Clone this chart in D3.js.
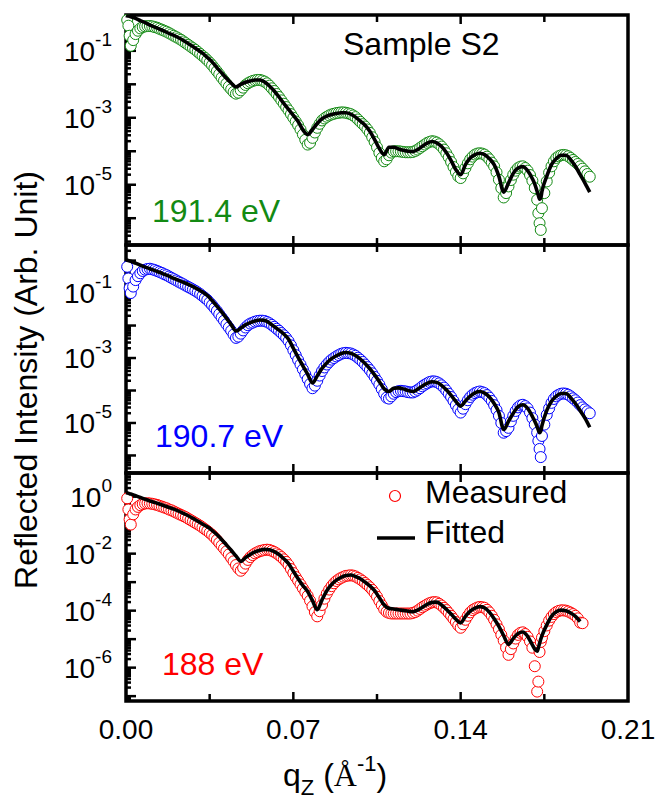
<!DOCTYPE html>
<html>
<head>
<meta charset="utf-8">
<script src="https://cdn.jsdelivr.net/npm/d3@7/dist/d3.min.js"></script>
<style>
  body{margin:0;background:#fff}
  svg{display:block}
</style>
</head>
<body>
<div id="chart"></div>
<script>
// q (A^-1) of the measured points
const qMeas = [0.0005, 0.001, 0.0015,
  0.002, 0.003, 0.004, 0.005, 0.006, 0.007, 0.008, 0.009,
  0.010, 0.011, 0.012, 0.013, 0.014, 0.015, 0.016, 0.017, 0.018, 0.019,
  0.020, 0.021, 0.022, 0.023, 0.024, 0.025, 0.026, 0.027, 0.028, 0.029,
  0.030, 0.031, 0.032, 0.033, 0.034, 0.035, 0.036, 0.037, 0.038, 0.039,
  0.040, 0.041, 0.042, 0.043, 0.044, 0.045, 0.046, 0.047, 0.048, 0.049,
  0.050, 0.051, 0.052, 0.053, 0.054, 0.055, 0.056, 0.057, 0.058, 0.059,
  0.060, 0.061, 0.062, 0.063, 0.064, 0.065, 0.066, 0.067, 0.068, 0.069,
  0.070, 0.071, 0.072, 0.073, 0.074, 0.075, 0.076, 0.077, 0.078, 0.079,
  0.080, 0.081, 0.082, 0.083, 0.084, 0.085, 0.086, 0.087, 0.088, 0.089,
  0.090, 0.091, 0.092, 0.093, 0.094, 0.095, 0.096, 0.097, 0.098, 0.099,
  0.100, 0.101, 0.102, 0.103, 0.104, 0.105, 0.106, 0.107, 0.108, 0.109,
  0.110, 0.111, 0.112, 0.113, 0.114, 0.115, 0.116, 0.117, 0.118, 0.119,
  0.120, 0.121, 0.122, 0.123, 0.124, 0.125, 0.126, 0.127, 0.128, 0.129,
  0.130, 0.131, 0.132, 0.133, 0.134, 0.135, 0.136, 0.137, 0.138, 0.139,
  0.140, 0.141, 0.142, 0.143, 0.144, 0.145, 0.146, 0.147, 0.148, 0.149,
  0.150, 0.151, 0.152, 0.153, 0.154, 0.155, 0.156, 0.157, 0.158, 0.159,
  0.160, 0.161, 0.162, 0.163, 0.164, 0.165, 0.166, 0.167, 0.168, 0.169,
  0.170, 0.171, 0.172, 0.1725, 0.173, 0.1735, 0.174, 0.175, 0.176, 0.177, 0.178, 0.179,
  0.180, 0.181, 0.182, 0.183, 0.184, 0.185, 0.186, 0.187, 0.188, 0.189,
  0.190, 0.191, 0.192, 0.193, 0.194]

// q grid of the fitted curves
const qFit = [0, 0.0005, 0.001, 0.0015,
  0.002, 0.004, 0.006, 0.008, 0.010, 0.012, 0.014, 0.016, 0.018, 0.020,
  0.022, 0.024, 0.026, 0.028, 0.030, 0.032, 0.034, 0.036, 0.038, 0.040,
  0.042, 0.044, 0.046, 0.048, 0.050, 0.052, 0.054, 0.056, 0.058, 0.060,
  0.062, 0.064, 0.066, 0.068, 0.070, 0.072, 0.074, 0.076, 0.078, 0.080,
  0.082, 0.084, 0.086, 0.088, 0.090, 0.092, 0.094, 0.096, 0.098, 0.100,
  0.102, 0.104, 0.106, 0.108, 0.110, 0.112, 0.114, 0.116, 0.118, 0.120,
  0.122, 0.124, 0.126, 0.128, 0.130, 0.132, 0.134, 0.136, 0.138, 0.140,
  0.142, 0.144, 0.146, 0.148, 0.150, 0.152, 0.154, 0.156, 0.158, 0.160,
  0.162, 0.164, 0.166, 0.168, 0.170,
  0.171, 0.172, 0.1725, 0.173, 0.1735, 0.174,
  0.176, 0.178, 0.180, 0.182, 0.184, 0.186, 0.188, 0.190, 0.192, 0.194]

// log10 of reflected intensity, 191.4 eV
const meas1914 = [-0.08, -0.25, -0.55,
  -0.85, -0.68, -0.50, -0.40, -0.33, -0.29, -0.27, -0.26,
  -0.26, -0.27, -0.29, -0.31, -0.34, -0.37, -0.40, -0.43, -0.47, -0.51,
  -0.55, -0.59, -0.63, -0.67, -0.72, -0.77, -0.82, -0.87, -0.92, -0.97,
  -1.03, -1.09, -1.15, -1.21, -1.28, -1.35, -1.43, -1.52, -1.61, -1.70,
  -1.80, -1.89, -1.98, -2.07, -2.15, -2.23, -2.28, -2.25, -2.18, -2.10,
  -2.02, -1.97, -1.93, -1.90, -1.88, -1.87, -1.87, -1.89, -1.92, -1.97,
  -2.04, -2.12, -2.20, -2.29, -2.38, -2.48, -2.58, -2.68, -2.78, -2.89,
  -3.00, -3.11, -3.22, -3.35, -3.50, -3.66, -3.80, -3.75, -3.60, -3.44,
  -3.30, -3.18, -3.08, -3.02, -2.97, -2.93, -2.90, -2.88, -2.86, -2.85,
  -2.84, -2.84, -2.85, -2.87, -2.89, -2.93, -2.98, -3.05, -3.12, -3.19,
  -3.26, -3.35, -3.45, -3.58, -3.72, -3.88, -4.05, -4.20, -4.30, -4.24,
  -4.12, -4.04, -4.00, -4.00, -4.00, -4.01, -4.02, -4.03, -4.03, -4.03,
  -4.02, -3.99, -3.95, -3.90, -3.85, -3.80, -3.75, -3.72, -3.70, -3.71,
  -3.74, -3.79, -3.86, -3.95, -4.06, -4.18, -4.32, -4.47, -4.62, -4.75,
  -4.80, -4.66, -4.50, -4.36, -4.24, -4.16, -4.10, -4.07, -4.06, -4.07,
  -4.10, -4.16, -4.24, -4.34, -4.45, -4.63, -4.85, -5.10, -5.38, -5.25,
  -5.05, -4.86, -4.70, -4.58, -4.50, -4.46, -4.45, -4.50, -4.58, -4.71,
  -4.88, -5.10, -5.45, -5.85, -6.15, -6.35, -5.70, -5.25, -4.90, -4.64, -4.45, -4.30,
  -4.20, -4.15, -4.12, -4.11, -4.12, -4.15, -4.20, -4.26, -4.32, -4.38,
  -4.45, -4.52, -4.60, -4.68, -4.76]
const fit1914 = [0.05, 0.04, 0.04, 0.03,
  0.02, -0.03, -0.10, -0.16, -0.23, -0.29, -0.35, -0.41, -0.48, -0.54,
  -0.61, -0.69, -0.78, -0.87, -0.97, -1.07, -1.20, -1.33, -1.50, -1.66,
  -1.82, -1.96, -2.08, -2.00, -1.94, -1.90, -1.87, -1.87, -1.93, -2.05,
  -2.20, -2.38, -2.57, -2.75, -2.93, -3.11, -3.36, -3.50, -3.35, -3.17,
  -3.03, -2.95, -2.90, -2.87, -2.85, -2.85, -2.89, -2.98, -3.10, -3.22,
  -3.40, -3.65, -3.92, -4.10, -3.88, -3.88, -3.93, -3.97, -4.00, -4.01,
  -3.95, -3.85, -3.76, -3.71, -3.75, -3.86, -4.04, -4.28, -4.55, -4.70,
  -4.40, -4.20, -4.10, -4.06, -4.10, -4.22, -4.40, -4.75, -5.22, -4.95,
  -4.66, -4.50, -4.46, -4.58, -4.82,
  -4.98, -5.20, -5.32, -5.43, -5.40, -5.20,
  -4.75, -4.40, -4.22, -4.12, -4.12, -4.25, -4.45, -4.70, -4.95, -5.22]

// 190.7 eV
const meas1907 = [-0.19, -0.55, -0.85,
  -1.00, -0.80, -0.60, -0.48, -0.39, -0.32, -0.28, -0.26,
  -0.25, -0.27, -0.29, -0.32, -0.35, -0.38, -0.42, -0.45, -0.49, -0.53,
  -0.57, -0.61, -0.65, -0.69, -0.73, -0.77, -0.81, -0.85, -0.89, -0.93,
  -0.98, -1.03, -1.09, -1.15, -1.21, -1.29, -1.37, -1.46, -1.55, -1.65,
  -1.75, -1.85, -1.96, -2.06, -2.16, -2.28, -2.38, -2.34, -2.25, -2.15,
  -2.06, -1.99, -1.94, -1.91, -1.88, -1.86, -1.85, -1.85, -1.86, -1.89,
  -1.93, -1.98, -2.04, -2.10, -2.16, -2.23, -2.30, -2.38, -2.48, -2.61,
  -2.76, -2.91, -3.06, -3.20, -3.35, -3.50, -3.65, -3.80, -3.93, -3.85,
  -3.70, -3.54, -3.40, -3.29, -3.20, -3.12, -3.05, -3.00, -2.95, -2.91,
  -2.87, -2.85, -2.84, -2.85, -2.86, -2.89, -2.93, -2.99, -3.05, -3.12,
  -3.20, -3.28, -3.37, -3.47, -3.58, -3.70, -3.82, -3.96, -4.10, -4.22,
  -4.25, -4.18, -4.10, -4.05, -4.02, -4.01, -4.02, -4.03, -4.05, -4.06,
  -4.06, -4.03, -3.98, -3.93, -3.87, -3.82, -3.78, -3.74, -3.72, -3.72,
  -3.74, -3.78, -3.84, -3.91, -4.00, -4.10, -4.20, -4.32, -4.45, -4.58,
  -4.68, -4.56, -4.42, -4.30, -4.20, -4.13, -4.08, -4.05, -4.03, -4.05,
  -4.08, -4.14, -4.22, -4.32, -4.45, -4.60, -4.78, -5.00, -5.30, -5.25,
  -5.15, -4.95, -4.78, -4.63, -4.52, -4.46, -4.44, -4.48, -4.55, -4.68,
  -4.85, -5.05, -5.30, -5.55, -5.80, -6.05, -5.40, -5.05, -4.75, -4.55, -4.38, -4.26,
  -4.18, -4.13, -4.10, -4.09, -4.10, -4.13, -4.18, -4.24, -4.30, -4.37,
  -4.45, -4.52, -4.58, -4.64, -4.70]
const fit1907 = [0.02, 0.01, 0.00, -0.01,
  -0.02, -0.08, -0.14, -0.20, -0.25, -0.31, -0.36, -0.42, -0.48, -0.55,
  -0.61, -0.67, -0.73, -0.80, -0.88, -0.97, -1.07, -1.23, -1.40, -1.58,
  -1.77, -1.97, -2.17, -2.08, -1.98, -1.91, -1.86, -1.83, -1.84, -1.92,
  -2.03, -2.14, -2.26, -2.42, -2.70, -2.98, -3.24, -3.50, -3.77, -3.55,
  -3.32, -3.15, -3.02, -2.93, -2.86, -2.83, -2.85, -2.92, -3.03, -3.17,
  -3.33, -3.52, -3.73, -3.95, -4.03, -3.93, -3.92, -3.95, -4.00, -4.03,
  -3.96, -3.86, -3.78, -3.73, -3.75, -3.84, -3.98, -4.15, -4.34, -4.48,
  -4.32, -4.17, -4.07, -4.03, -4.08, -4.20, -4.40, -4.68, -5.20, -4.95,
  -4.70, -4.50, -4.44, -4.55, -4.80,
  -4.95, -5.12, -5.22, -5.30, -5.25, -5.08,
  -4.62, -4.33, -4.17, -4.09, -4.09, -4.22, -4.40, -4.62, -4.85, -5.13]

// 188 eV
const meas188 = [-0.06, -0.45, -0.80,
  -0.98, -0.62, -0.45, -0.36, -0.30, -0.26, -0.24, -0.23,
  -0.24, -0.25, -0.27, -0.29, -0.32, -0.35, -0.38, -0.41, -0.45, -0.48,
  -0.52, -0.56, -0.60, -0.64, -0.68, -0.72, -0.77, -0.82, -0.87, -0.92,
  -0.97, -1.02, -1.08, -1.14, -1.20, -1.27, -1.34, -1.43, -1.52, -1.62,
  -1.72, -1.82, -1.92, -2.03, -2.15, -2.27, -2.40, -2.52, -2.60, -2.50,
  -2.35, -2.22, -2.12, -2.05, -1.99, -1.95, -1.91, -1.89, -1.87, -1.86,
  -1.87, -1.90, -1.94, -1.99, -2.05, -2.12, -2.20, -2.29, -2.40, -2.54,
  -2.68, -2.82, -2.95, -3.08, -3.22, -3.35, -3.48, -3.65, -3.85, -4.05,
  -4.20, -4.02, -3.80, -3.58, -3.40, -3.26, -3.14, -3.04, -2.96, -2.90,
  -2.85, -2.81, -2.78, -2.77, -2.76, -2.77, -2.80, -2.85, -2.90, -2.96,
  -3.03, -3.10, -3.18, -3.27, -3.38, -3.51, -3.66, -3.81, -3.95, -4.04,
  -4.08, -4.10, -4.10, -4.10, -4.10, -4.10, -4.10, -4.10, -4.10, -4.10,
  -4.08, -4.05, -4.00, -3.94, -3.88, -3.83, -3.78, -3.74, -3.71, -3.70,
  -3.71, -3.76, -3.82, -3.90, -3.98, -4.08, -4.18, -4.29, -4.40, -4.52,
  -4.60, -4.48, -4.32, -4.18, -4.06, -3.98, -3.93, -3.89, -3.87, -3.88,
  -3.90, -3.97, -4.06, -4.18, -4.32, -4.48, -4.65, -4.85, -5.05, -5.30,
  -5.55, -5.35, -5.15, -4.98, -4.85, -4.78, -4.76, -4.82, -4.92, -5.08,
  -5.30, -5.95, -6.84, -6.49, -5.45, -5.10, -4.95, -4.72, -4.52, -4.35, -4.22, -4.12,
  -4.05, -4.01, -3.99, -3.99, -4.00, -4.03, -4.07, -4.12, -4.18, -4.27,
  -4.42, -4.44, null, null, null]
const fit188 = [0.14, 0.13, 0.12, 0.10,
  0.09, 0.03, -0.03, -0.09, -0.15, -0.20, -0.26, -0.32, -0.38, -0.44,
  -0.51, -0.59, -0.67, -0.76, -0.86, -0.96, -1.06, -1.18, -1.33, -1.50,
  -1.69, -1.88, -2.08, -2.27, -2.14, -2.03, -1.94, -1.88, -1.85, -1.86,
  -1.93, -2.03, -2.18, -2.35, -2.62, -2.88, -3.12, -3.33, -3.65, -3.97,
  -3.62, -3.30, -3.08, -2.93, -2.83, -2.77, -2.75, -2.80, -2.88, -3.00,
  -3.13, -3.30, -3.55, -3.80, -3.92, -3.94, -3.97, -3.99, -4.02, -4.04,
  -3.98, -3.88, -3.78, -3.71, -3.70, -3.80, -3.95, -4.12, -4.30, -4.43,
  -4.20, -4.02, -3.91, -3.86, -3.90, -4.05, -4.28, -4.55, -4.88, -5.18,
  -4.98, -4.80, -4.75, -4.90, -5.20,
  -5.35, -5.42, -5.30, -5.15, -5.00, -4.88,
  -4.50, -4.20, -4.04, -3.98, -4.00, -4.08, -4.20, -4.38, null, null]

// axis ticks
const xTicks = [0, 0.035, 0.07, 0.105, 0.14, 0.175, 0.21]
const xTickLabels = [0, 0.07, 0.14, 0.21]
const yLabelExp1914 = [-1, -3, -5]
const yLabelExp1907 = [-1, -3, -5]
const yLabelExp188 = [0, -2, -4, -6]

const W = 657, H = 802
const left = 126, right = 628
const font = "'Liberation Sans', Arial, sans-serif"

const panels = [
  {name:'191.4 eV', color:'#138a13', meas:meas1914, fit:fit1914, labels:yLabelExp1914,
   top:15, bottom:245, lo:-6.8, hi:0.07, tx:152, ty:222},
  {name:'190.7 eV', color:'#0000ff', meas:meas1907, fit:fit1907, labels:yLabelExp1907,
   top:245, bottom:473, lo:-6.54, hi:0.48, tx:155, ty:447},
  {name:'188 eV', color:'#ff0000', meas:meas188, fit:fit188, labels:yLabelExp188,
   top:473, bottom:701, lo:-7.17, hi:0.83, tx:162, ty:675}
]

const svg = d3.select('#chart').append('svg')
  .attr('width', W).attr('height', H)
  .style('font-family', font)

const x = d3.scaleLinear().domain([0, 0.21]).range([left, right])

const drawPanel = (p) => {
  const y = d3.scaleLog().domain([10 ** p.lo, 10 ** p.hi]).range([p.bottom, p.top])
  const g = svg.append('g')

  // frame
  g.append('rect')
    .attr('x', left).attr('y', p.top)
    .attr('width', right - left).attr('height', p.bottom - p.top)
    .attr('fill', 'none').attr('stroke', '#000').attr('stroke-width', 3.5)

  // log ticks on left axis (inside)
  const yt = []
  for (let e = Math.floor(p.lo); e <= Math.ceil(p.hi); e++) {
    for (let k = 1; k <= 9; k++) {
      const v = k * 10 ** e
      if (v >= 10 ** p.lo && v <= 10 ** p.hi) yt.push({v, major: k === 1})
    }
  }
  g.selectAll('line.yt').data(yt).join('line')
    .attr('x1', left).attr('x2', d => left + (d.major ? 10 : 5))
    .attr('y1', d => y(d.v)).attr('y2', d => y(d.v))
    .attr('stroke', '#000').attr('stroke-width', 2.5)

  // x ticks on top and bottom edges
  const inner = xTicks.slice(1, -1)
  g.selectAll('line.xb').data(inner).join('line')
    .attr('x1', d => x(d)).attr('x2', d => x(d))
    .attr('y1', p.bottom).attr('y2', d => p.bottom - (xTickLabels.includes(d) ? 9 : 7))
    .attr('stroke', '#000').attr('stroke-width', 2.5)
  g.selectAll('line.xt').data(inner).join('line')
    .attr('x1', d => x(d)).attr('x2', d => x(d))
    .attr('y1', p.top).attr('y2', d => p.top + (xTickLabels.includes(d) ? 9 : 7))
    .attr('stroke', '#000').attr('stroke-width', 2.5)

  // y tick labels 10^n
  const lab = g.selectAll('text.yl').data(p.labels).join('text')
    .attr('x', 112).attr('y', d => y(10 ** d) + 10)
    .attr('text-anchor', 'end').attr('font-size', 28)
  lab.append('tspan').text('10')
  lab.append('tspan').attr('dy', -15).attr('font-size', 19).text(d => d)

  // measured points, white filled so the later ones overlap the earlier
  const pts = qMeas.map((q, i) => ({q, v: p.meas[i]})).filter(d => d.v !== null)
  g.selectAll('circle').data(pts).join('circle')
    .attr('cx', d => x(d.q)).attr('cy', d => y(10 ** d.v))
    .attr('r', 5.5).attr('fill', '#fff')
    .attr('stroke', p.color).attr('stroke-width', 1)

  // fitted curve
  const fitPts = qFit.map((q, i) => ({q, v: p.fit[i]}))
  const line = d3.line()
    .defined(d => d.v !== null)
    .x(d => x(d.q)).y(d => y(10 ** d.v))
    .curve(d3.curveMonotoneX)
  g.append('path').datum(fitPts)
    .attr('d', line).attr('fill', 'none')
    .attr('stroke', '#000').attr('stroke-width', 3.6)
    .attr('stroke-linejoin', 'round')

  g.append('text').attr('x', p.tx).attr('y', p.ty)
    .attr('font-size', 32).attr('fill', p.color).text(p.name)
}

panels.forEach(drawPanel)

// x tick labels under the bottom panel
svg.selectAll('text.xl').data(xTickLabels).join('text')
  .attr('x', d => x(d)).attr('y', 739)
  .attr('text-anchor', 'middle').attr('font-size', 28)
  .text(d => d3.format('.2f')(d))

// axis titles
const xt = svg.append('text').attr('x', 283).attr('y', 786).attr('font-size', 32)
xt.append('tspan').text('q')
xt.append('tspan').attr('dy', 9).attr('font-size', 22).text('Z')
xt.append('tspan').attr('dy', -9).text(' (')
xt.append('tspan').attr('font-family', "'Liberation Serif', serif").text('Å')
xt.append('tspan').attr('dy', -15).attr('font-size', 22).text('-1')
xt.append('tspan').attr('dy', 15).text(')')

svg.append('text')
  .attr('transform', 'translate(37,380) rotate(-90)')
  .attr('text-anchor', 'middle').attr('font-size', 32)
  .text('Reflected Intensity (Arb. Unit)')

svg.append('text').attr('x', 343).attr('y', 55)
  .attr('font-size', 32).text('Sample S2')

// legend
svg.append('circle').attr('cx', 395).attr('cy', 496).attr('r', 5.5)
  .attr('fill', '#fff').attr('stroke', '#ff0000').attr('stroke-width', 1.2)
svg.append('text').attr('x', 425).attr('y', 503).attr('font-size', 32).text('Measured')
svg.append('line').attr('x1', 377).attr('x2', 415).attr('y1', 538).attr('y2', 538)
  .attr('stroke', '#000').attr('stroke-width', 3.5)
svg.append('text').attr('x', 425).attr('y', 543).attr('font-size', 32).text('Fitted')
</script>
</body>
</html>
